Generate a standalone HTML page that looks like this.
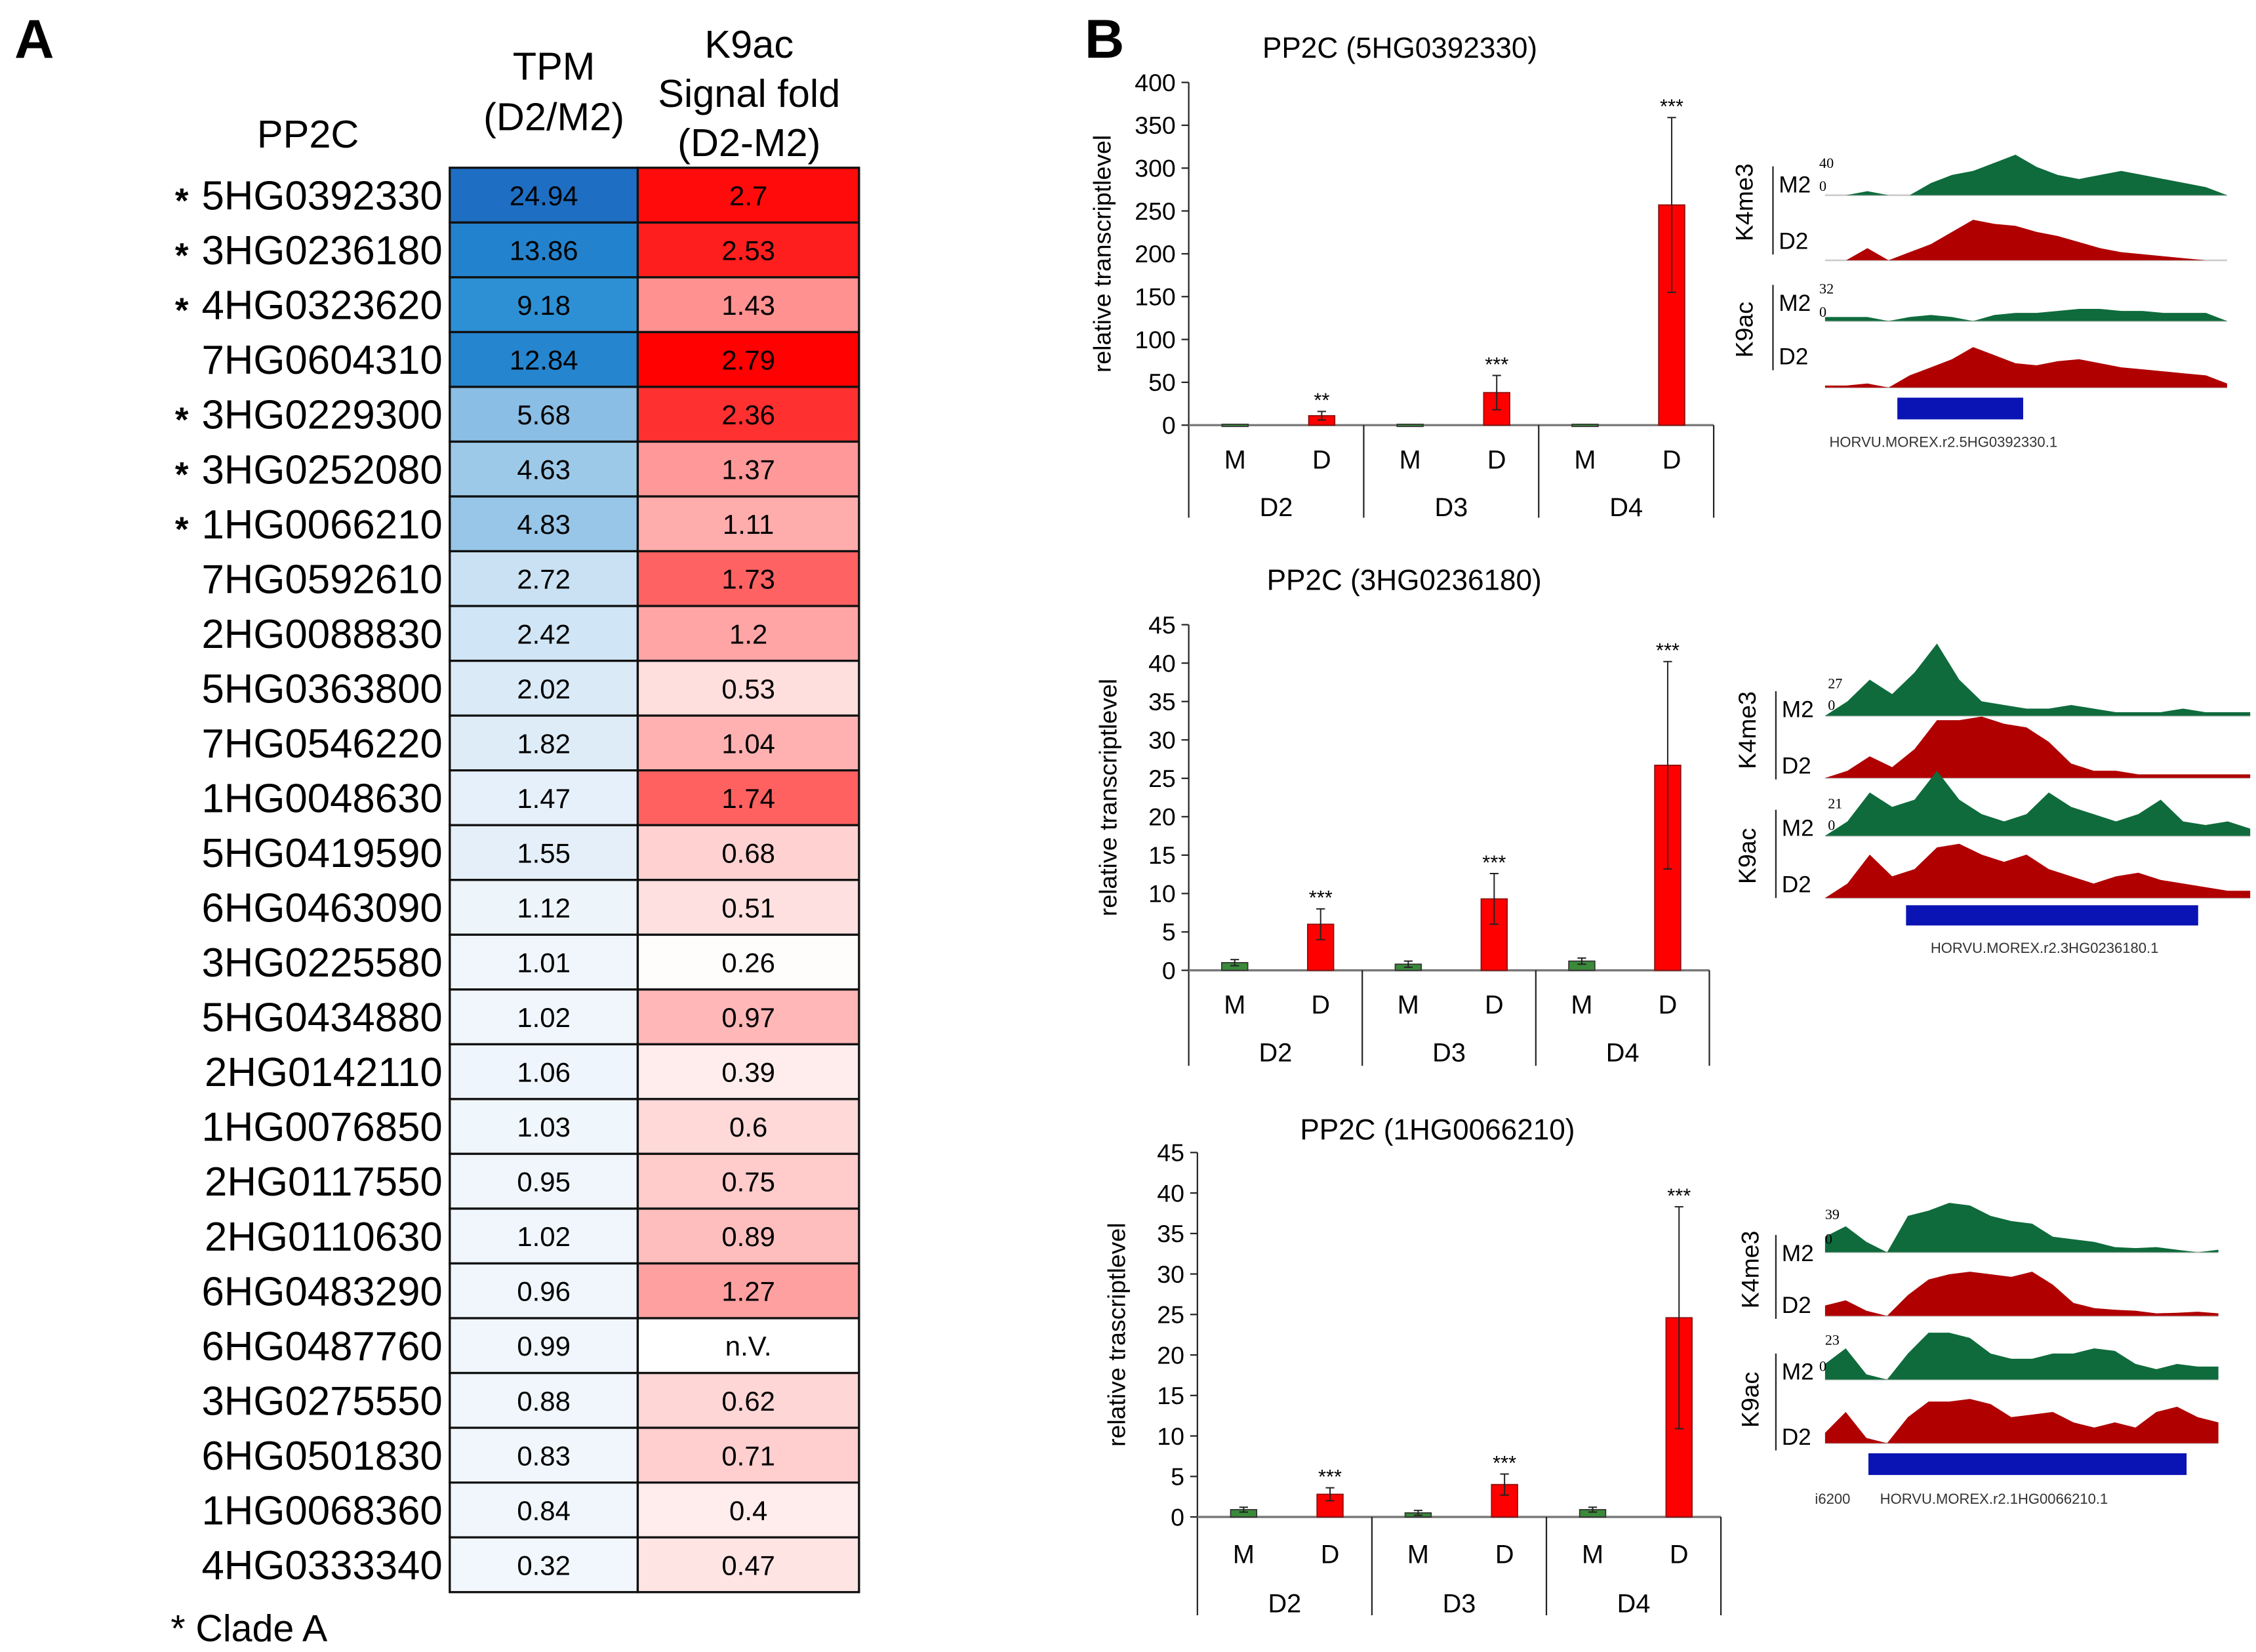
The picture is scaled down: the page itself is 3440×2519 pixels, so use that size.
<!DOCTYPE html>
<html><head><meta charset="utf-8"><style>
html,body{margin:0;padding:0;background:#fff}
svg{display:block;font-family:"Liberation Sans",Arial,sans-serif}
</style></head><body>
<svg id="fig" width="3440" height="2519" viewBox="0 0 1560 1142.4" preserveAspectRatio="none" xmlns="http://www.w3.org/2000/svg">
<text x="10" y="40" font-size="38" font-weight="bold">A</text>
<text x="750" y="40" font-size="38" font-weight="bold">B</text>
<g font-size="27" text-anchor="middle">
<text x="213" y="102">PP2C</text>
<text x="383" y="55">TPM</text>
<text x="383" y="90">(D2/M2)</text>
<text x="518" y="40">K9ac</text>
<text x="518" y="74">Signal fold</text>
<text x="518" y="108">(D2-M2)</text>
</g>
<g id="heat"></g>
<text x="118" y="1135" font-size="26">*  Clade A</text>
<g id="charts"></g>
<g id="tracks"></g>
</svg>
<script>
const genes=["5HG0392330","3HG0236180","4HG0323620","7HG0604310","3HG0229300","3HG0252080","1HG0066210","7HG0592610","2HG0088830","5HG0363800","7HG0546220","1HG0048630","5HG0419590","6HG0463090","3HG0225580","5HG0434880","2HG0142110","1HG0076850","2HG0117550","2HG0110630","6HG0483290","6HG0487760","3HG0275550","6HG0501830","1HG0068360","4HG0333340"];
const cladeA=[1,1,1,0,1,1,1,0,0,0,0,0,0,0,0,0,0,0,0,0,0,0,0,0,0,0];
const tpm=["24.94","13.86","9.18","12.84","5.68","4.63","4.83","2.72","2.42","2.02","1.82","1.47","1.55","1.12","1.01","1.02","1.06","1.03","0.95","1.02","0.96","0.99","0.88","0.83","0.84","0.32"];
const k9=["2.7","2.53","1.43","2.79","2.36","1.37","1.11","1.73","1.2","0.53","1.04","1.74","0.68","0.51","0.26","0.97","0.39","0.6","0.75","0.89","1.27","n.V.","0.62","0.71","0.4","0.47"];

const charts=[
 {title:"PP2C (5HG0392330)",ylab:"relative transcriptlevel",max:400,step:50},
 {title:"PP2C (3HG0236180)",ylab:"relative transcriptlevel",max:45,step:5},
 {title:"PP2C (1HG0066210)",ylab:"relative trascriptlevel",max:45,step:5}];
const groups=["D2","D3","D4"];
const c1M=[1,1,1], c1D=[11,38,257], c1Me=[0,0,0], c1De=[5,20,102], c1S=["**","***","***"];
const c2M=[1,0.8,1.2], c2D=[6,9.3,26.7], c2Me=[0.4,0.4,0.4], c2De=[2,3.3,13.5], c2S=["***","***","***"];
const c3M=[0.9,0.5,0.9], c3D=[2.8,4,24.6], c3Me=[0.3,0.3,0.3], c3De=[0.8,1.3,13.7], c3S=["***","***","***"];

const NS="http://www.w3.org/2000/svg";
function mk(tag,attrs,parent,txt){const e=document.createElementNS(NS,tag);for(const k in attrs)e.setAttribute(k,attrs[k]);if(txt!==undefined)e.textContent=txt;parent.appendChild(e);return e;}
function interp(stops,v){if(v<=stops[0][0])return stops[0][1];for(let i=1;i<stops.length;i++){if(v<=stops[i][0]){const a=stops[i-1],b=stops[i],t=(v-a[0])/(b[0]-a[0]);return a[1].map((c,j)=>Math.round(c+(b[1][j]-c)*t));}}return stops[stops.length-1][1];}
const blueStops=[[0,[243,248,253]],[1,[240,246,252]],[2,[218,234,247]],[3,[195,221,242]],[5,[148,196,231]],[6,[135,187,226]],[9,[45,145,212]],[14,[35,130,205]],[25,[30,110,195]]];
const redStops=[[0,[255,255,255]],[0.26,[255,252,252]],[0.5,[255,225,225]],[1,[255,180,180]],[1.4,[255,150,150]],[1.75,[255,95,95]],[2.4,[255,45,45]],[2.8,[255,0,0]]];
const rgb=a=>`rgb(${a[0]},${a[1]},${a[2]})`;

const heat=document.getElementById('heat');
const top0=116,rh=(1101-116)/genes.length,cx1=311,cx2=441,cx3=594;
genes.forEach((g,i)=>{
 const y=top0+i*rh;
 const lab=mk('text',{x:306,y:y+rh/2+10,'font-size':28,'text-anchor':'end'},heat,g);
 
 
 if(cladeA[i]){const s=mk('text',{x:121,y:y+rh/2+12,'font-size':24,'font-weight':'bold'},heat,'*');
  
  }
 const tv=parseFloat(tpm[i]);
 const r1=mk('rect',{x:cx1,y:y,width:cx2-cx1,height:rh,fill:rgb(interp(blueStops,tv)),stroke:'#111','stroke-width':1.5},heat);
 
 
 mk('text',{x:(cx1+cx2)/2,y:y+rh/2+7,'font-size':19,'text-anchor':'middle'},heat,tpm[i]);
 const kv=parseFloat(k9[i]);
 const r2=mk('rect',{x:cx2,y:y,width:cx3-cx2,height:rh,fill:isNaN(kv)?'#fff':rgb(interp(redStops,kv)),stroke:'#111','stroke-width':1.5},heat);
 
 
 mk('text',{x:(cx2+cx3)/2,y:y+rh/2+7,'font-size':19,'text-anchor':'middle'},heat,k9[i]);
});

const layouts=[
 {ax:822,top:57,zero:294,right:1185,bot:358,mdy:324,gy:357,ty:40,tx:968,lx:768},
 {ax:822,top:432,zero:671,right:1182,bot:737,mdy:701,gy:734,ty:408,tx:971,lx:772},
 {ax:828,top:797,zero:1049,right:1190,bot:1117,mdy:1081,gy:1115,ty:788,tx:994,lx:778}];
const data=[[c1M,c1D,c1Me,c1De,c1S],[c2M,c2D,c2Me,c2De,c2S],[c3M,c3D,c3Me,c3De,c3S]];
const cg=document.getElementById('charts');
charts.forEach((c,ci)=>{
 const L=layouts[ci];const g=mk('g',{},cg);
 
 
 const y=v=>L.zero-v/c.max*(L.zero-L.top);
 const gw=(L.right-L.ax)/3;
 const xM=i=>L.ax+i*gw+gw*0.265, xD=i=>L.ax+i*gw+gw*0.76;
 const t=mk('text',{x:L.tx,y:L.ty,'font-size':20,'text-anchor':'middle'},g,c.title);
 
 
 const yl=mk('text',{x:0,y:0,'font-size':17,'text-anchor':'middle',transform:`translate(${L.lx},${(L.top+L.zero)/2}) rotate(-90)`},g,c.ylab);
 
 
 mk('line',{x1:L.ax,y1:L.top,x2:L.ax,y2:L.bot,stroke:'#222','stroke-width':1},g);
 for(let v=0;v<=c.max+1e-9;v+=c.step){
  mk('line',{x1:L.ax-5,y1:y(v),x2:L.ax,y2:y(v),stroke:'#222','stroke-width':1},g);
  const tl=mk('text',{x:L.ax-9,y:y(v)+6,'font-size':17,'text-anchor':'end'},g,String(v));
  
  
 }
 mk('line',{x1:L.ax,y1:L.zero,x2:L.right,y2:L.zero,stroke:'#777','stroke-width':1.5},g);
 const [M,D,Me,De,S]=data[ci];
 groups.forEach((gn,i)=>{
  mk('line',{x1:L.ax+(i+1)*gw,y1:L.zero,x2:L.ax+(i+1)*gw,y2:L.bot,stroke:'#222','stroke-width':1},g);
  mk('text',{x:xM(i),y:L.mdy,'font-size':18,'text-anchor':'middle'},g,'M');
  mk('text',{x:xD(i),y:L.mdy,'font-size':18,'text-anchor':'middle'},g,'D');
  const gl=mk('text',{x:L.ax+(i+0.5)*gw,y:L.gy,'font-size':18,'text-anchor':'middle'},g,gn);
  
  
  const bw=18;
  const bm=mk('rect',{x:xM(i)-bw/2,y:y(M[i]),width:bw,height:Math.max(1.5,L.zero-y(M[i])),fill:'#3a8a3a',stroke:'#333','stroke-width':0.8},g);
  
  
  const bd=mk('rect',{x:xD(i)-bw/2,y:y(D[i]),width:bw,height:L.zero-y(D[i]),fill:'#ff0000',stroke:'#8a1010','stroke-width':0.8},g);
  
  
  [[xM(i),M[i],Me[i]],[xD(i),D[i],De[i]]].forEach(([x,v,e])=>{
   if(e<=0)return;
   mk('line',{x1:x,y1:y(v+e),x2:x,y2:y(Math.max(0,v-e)),stroke:'#222','stroke-width':0.9},g);
   mk('line',{x1:x-3,y1:y(v+e),x2:x+3,y2:y(v+e),stroke:'#222','stroke-width':0.9},g);
   mk('line',{x1:x-3,y1:y(Math.max(0,v-e)),x2:x+3,y2:y(Math.max(0,v-e)),stroke:'#222','stroke-width':0.9},g);
  });
  const st=mk('text',{x:xD(i),y:y(D[i]+De[i])-3,'font-size':14,'text-anchor':'middle'},g,S[i]);
  
  
 });
});

const p1a=[0,0,.1,0,0,.3,.5,.6,.8,1,.7,.5,.4,.5,.6,.5,.4,.3,.2,0];
const p1b=[0,0,.3,0,.2,.4,.7,1,.9,.85,.7,.6,.45,.3,.2,.15,.1,.05,0,0];
const p1c=[.1,.1,.1,0,.1,.15,.1,0,.15,.2,.2,.25,.3,.3,.25,.25,.2,.2,.2,0];
const p1d=[.05,.05,.1,0,.3,.5,.7,1,.8,.6,.55,.65,.7,.6,.5,.45,.4,.35,.3,.1];
const p2a=[0,.2,.5,.3,.6,1,.5,.2,.15,.1,.1,.15,.1,.05,.05,.05,.1,.05,.05,.05];
const p2b=[0,.1,.3,.15,.4,.8,.8,.85,.75,.7,.5,.2,.1,.1,.05,.05,.05,.05,.05,.05];
const p2c=[0,.2,.6,.4,.5,.9,.5,.3,.2,.3,.6,.4,.3,.2,.3,.5,.2,.15,.2,.1];
const p2d=[0,.2,.6,.3,.4,.7,.75,.6,.5,.6,.4,.3,.2,.3,.35,.25,.2,.15,.1,.1];
const p3a=[.3,.5,.2,0,.7,.8,.95,.9,.7,.6,.55,.3,.25,.2,.1,.08,.1,.05,0,.05];
const p3b=[.2,.3,.1,0,.4,.7,.8,.85,.8,.75,.85,.6,.25,.15,.12,.1,.05,.06,.08,.05];
const p3c=[.3,.6,.1,0,.5,.9,.9,.8,.5,.4,.4,.5,.5,.6,.55,.3,.2,.3,.25,.25];
const p3d=[.2,.6,.1,0,.5,.8,.8,.85,.75,.5,.55,.6,.4,.3,.4,.3,.6,.7,.5,.4];
const trackSets=[
 {x0:1262,x1:1540,h:28,base:[135,180,222,268],prof:[p1a,p1b,p1c,p1d],gene:[1312,1399,275,290],gtxt:"HORVU.MOREX.r2.5HG0392330.1",gtx:1265,gty:309,lab:[[1230,133,'M2'],[1230,172,'D2'],[1230,215,'M2'],[1230,252,'D2']],sc:[["40",1258,116],["0",1258,132],["32",1258,203],["0",1258,219]],k4:[1206,140],k9:[1206,228]},
 {x0:1262,x1:1556,h:50,base:[495,538,578,621],prof:[p2a,p2b,p2c,p2d],gene:[1318,1520,626,640],gtxt:"HORVU.MOREX.r2.3HG0236180.1",gtx:1335,gty:659,lab:[[1232,496,'M2'],[1232,535,'D2'],[1232,578,'M2'],[1232,617,'D2']],sc:[["27",1264,476],["0",1264,491],["21",1264,559],["0",1264,574]],k4:[1208,505],k9:[1208,592]},
 {x0:1262,x1:1534,h:36,base:[866,910,954,998],prof:[p3a,p3b,p3c,p3d],gene:[1292,1512,1005,1020],gtxt:"HORVU.MOREX.r2.1HG0066210.1",gtx:1300,gty:1040,extra:["i6200",1255,1040],lab:[[1232,872,'M2'],[1232,908,'D2'],[1232,954,'M2'],[1232,999,'D2']],sc:[["39",1262,843],["0",1262,860],["23",1262,930],["0",1258,948]],k4:[1210,878],k9:[1210,968]}];
const tg=document.getElementById('tracks');
trackSets.forEach((T,ti)=>{
 const g=mk('g',{},tg);
 
 
 T.prof.forEach((p,k)=>{
  const b=T.base[k];const n=p.length;const dx=(T.x1-T.x0)/(n-1);
  let pts=`${T.x0},${b} `;
  p.forEach((v,i)=>{const x=T.x0+i*dx;pts+=`${x.toFixed(1)},${(b-v*T.h).toFixed(1)} `;});
  pts+=`${T.x1},${b}`;
  mk('line',{x1:T.x0,y1:b,x2:T.x1,y2:b,stroke:'#ccc','stroke-width':1.2},g);
  const pg=mk('polygon',{points:pts,fill:k%2===0?'#0f6b3c':'#b00000'},g);
  
  
 });
 const ge=mk('rect',{x:T.gene[0],y:T.gene[2],width:T.gene[1]-T.gene[0],height:T.gene[3]-T.gene[2],fill:'#0a14b4'},g);
 
 
 mk('text',{x:T.gtx,y:T.gty,'font-size':10,fill:'#333'},g,T.gtxt);
 if(T.extra)mk('text',{x:T.extra[1],y:T.extra[2],'font-size':10,fill:'#333'},g,T.extra[0]);
 T.lab.forEach(l=>mk('text',{x:l[0],y:l[1],'font-size':16},g,l[2]));
 T.sc.forEach(s=>mk('text',{x:s[1],y:s[2],'font-size':10,'font-family':'Liberation Serif'},g,s[0]));
 mk('text',{x:0,y:0,'font-size':17,'text-anchor':'middle',transform:`translate(${T.k4[0]+6},${T.k4[1]}) rotate(-90)`},g,'K4me3');
 mk('text',{x:0,y:0,'font-size':17,'text-anchor':'middle',transform:`translate(${T.k9[0]+6},${T.k9[1]}) rotate(-90)`},g,'K9ac');
 mk('line',{x1:T.lab[0][0]-4,y1:T.lab[0][1]-18,x2:T.lab[0][0]-4,y2:T.lab[1][1]+4,stroke:'#222','stroke-width':1},g);
 mk('line',{x1:T.lab[2][0]-4,y1:T.lab[2][1]-18,x2:T.lab[2][0]-4,y2:T.lab[3][1]+4,stroke:'#222','stroke-width':1},g);
});
</script>
</body></html>
